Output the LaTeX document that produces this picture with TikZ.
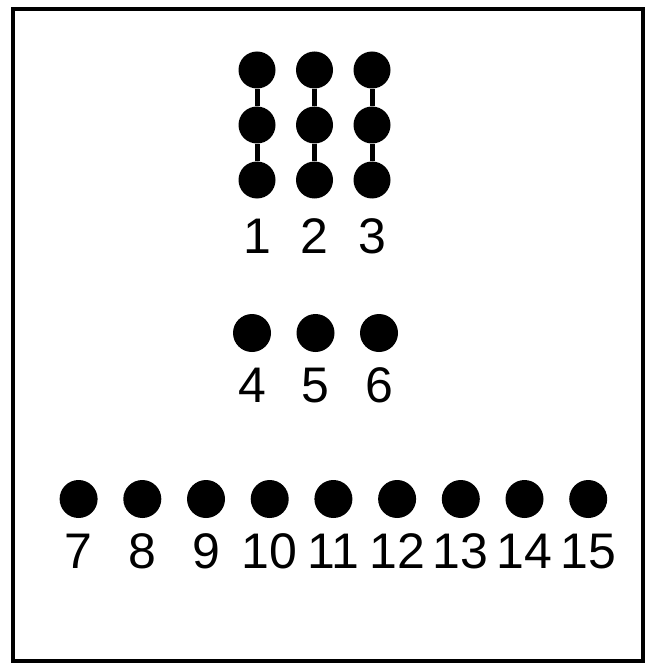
\documentclass[tikz,border=0pt]{standalone}
\usepackage{fontspec}
\setmainfont{Liberation Sans}
\usetikzlibrary{positioning}

\begin{document}
\begin{tikzpicture}[
  x=1pt, y=-1pt,
  node distance=14pt,
  dot/.style={circle, fill=black, inner sep=0pt, minimum size=38pt},
  topdot/.style={dot, minimum size=37pt},
  num/.style={inner sep=0pt, text height=36pt, text depth=0pt, font=\fontsize{50}{50}\selectfont},
  link/.style={line width=5pt}
]
\useasboundingbox (0,0) rectangle (649,663);
\node[draw, line width=4.5pt, inner sep=0pt, minimum width=630pt, minimum height=652pt] (frame) at (328,335) {};
% three strings of beads
\node[topdot] (a1) at (257,70) {};
\node[topdot] (b1) at (257,125) {};
\node[topdot] (c1) at (257,180) {};
\node[topdot] (a2) at (314.5,70) {};
\node[topdot] (b2) at (314.5,125) {};
\node[topdot] (c2) at (314.5,180) {};
\node[topdot] (a3) at (372,70) {};
\node[topdot] (b3) at (372,125) {};
\node[topdot] (c3) at (372,180) {};
\draw[link] (a1) -- (b1) -- (c1);
\draw[link] (a2) -- (b2) -- (c2);
\draw[link] (a3) -- (b3) -- (c3);
\node[num, below=19pt of c1] (n1) {1};
\node[num, below=19pt of c2] (n2) {2};
\node[num, below=19pt of c3] (n3) {3};
% single beads
\node[dot] (d4) at (252,333) {};
\node[dot] (d5) at (315.5,333) {};
\node[dot] (d6) at (379,333) {};
\node[num, below=of d4] (n4) {4};
\node[num, below=of d5] (n5) {5};
\node[num, below=of d6] (n6) {6};
% row of beads
\node[dot] (d7) at (78.6,499) {};
\node[dot] (d8) at (142.3,499) {};
\node[dot] (d9) at (206,499) {};
\node[dot] (d10) at (269.7,499) {};
\node[dot] (d11) at (333.4,499) {};
\node[dot] (d12) at (397.1,499) {};
\node[dot] (d13) at (460.8,499) {};
\node[dot] (d14) at (524.5,499) {};
\node[dot] (d15) at (588.2,499) {};
\node[num, below=of d7] (n7) {7};
\node[num, below=of d8] (n8) {8};
\node[num, below=of d9] (n9) {9};
\node[num, below=of d10] (n10) {10};
\node[num, below=of d11] (n11) {11};
\node[num, below=of d12] (n12) {12};
\node[num, below=of d13] (n13) {13};
\node[num, below=of d14] (n14) {14};
\node[num, below=of d15] (n15) {15};
\end{tikzpicture}
\end{document}
